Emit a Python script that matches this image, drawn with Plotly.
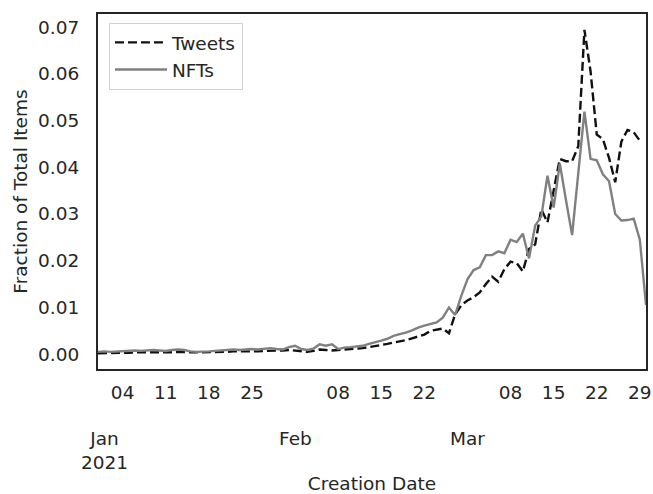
import pandas as pd
import plotly.graph_objects as go

start_date = "2020-12-31"
n_days = 90

tweets = [
    0.0002, 0.0002, 0.0003, 0.0003, 0.0003, 0.0003, 0.0004, 0.0004, 0.0004, 0.0004,
    0.0003, 0.0004, 0.0004, 0.0005, 0.0004, 0.0004, 0.0004, 0.0004, 0.0005, 0.0005,
    0.0005, 0.0005, 0.0006, 0.0006, 0.0005, 0.0006, 0.0006, 0.0007, 0.0007, 0.0007,
    0.0008, 0.0009, 0.0008, 0.0006, 0.0005, 0.0007, 0.0010, 0.0009, 0.0008, 0.0009,
    0.0010, 0.0010, 0.0011, 0.0013, 0.0015, 0.0017, 0.0020, 0.0022, 0.0025, 0.0027,
    0.0030, 0.0034, 0.0038, 0.0042, 0.0050, 0.0053, 0.0055, 0.0045, 0.0085, 0.0105,
    0.0115, 0.0122, 0.0132, 0.0150, 0.0166, 0.0155, 0.0182, 0.0198, 0.0195, 0.0177,
    0.0225, 0.0235, 0.0310, 0.0282, 0.0350, 0.0418, 0.0413, 0.0413, 0.0445, 0.0694,
    0.0605, 0.0470, 0.0460, 0.0420, 0.0368, 0.0455, 0.0480, 0.0475, 0.0457, None,
]

nfts = [
    0.0005, 0.0006, 0.0005, 0.0006, 0.0007, 0.0007, 0.0008, 0.0007, 0.0008, 0.0009,
    0.0008, 0.0007, 0.0009, 0.0010, 0.0009, 0.0006, 0.0005, 0.0005, 0.0006, 0.0007,
    0.0008, 0.0009, 0.0010, 0.0009, 0.0010, 0.0011, 0.0010, 0.0012, 0.0013, 0.0011,
    0.0010, 0.0015, 0.0018, 0.0011, 0.0009, 0.0012, 0.0021, 0.0018, 0.0021, 0.0011,
    0.0014, 0.0015, 0.0016, 0.0018, 0.0022, 0.0025, 0.0029, 0.0033, 0.0039, 0.0043,
    0.0046, 0.0051, 0.0057, 0.0061, 0.0065, 0.0068, 0.0078, 0.0100, 0.0084, 0.0125,
    0.0160, 0.0180, 0.0186, 0.0212, 0.0212, 0.0220, 0.0216, 0.0245, 0.0240, 0.0258,
    0.0205, 0.0275, 0.0295, 0.0382, 0.0314, 0.0408, 0.0330, 0.0255, 0.0387, 0.0519,
    0.0418, 0.0415, 0.0385, 0.0370, 0.0300, 0.0286, 0.0287, 0.0290, 0.0245, 0.0105,
]

week_ticks = ["2021-01-04", "2021-01-11", "2021-01-18", "2021-01-25",
              "2021-02-08", "2021-02-15", "2021-02-22",
              "2021-03-08", "2021-03-15", "2021-03-22", "2021-03-29"]
week_labels = ["04", "11", "18", "25", "08", "15", "22", "08", "15", "22", "29"]
month_ticks = ["2021-01-01", "2021-02-01", "2021-03-01"]
month_labels = ["Jan<br>2021", "Feb", "Mar"]

dates = pd.date_range(start_date, periods=n_days)

FONT = "DejaVu Sans"
TXT = "#262626"
FS = 18.5

fig = go.Figure()
fig.add_trace(go.Scatter(x=dates, y=tweets, mode="lines", name="Tweets",
                         line=dict(color="#111111", width=2.4, dash="9px,4px")))
fig.add_trace(go.Scatter(x=dates, y=nfts, mode="lines", name="NFTs",
                         line=dict(color="#808080", width=2.4)))

fig.update_layout(
    width=653, height=494,
    margin=dict(l=98, r=7, t=14, b=125),
    paper_bgcolor="white", plot_bgcolor="white",
    font=dict(family=FONT, size=FS, color=TXT),
    showlegend=True,
    legend=dict(x=0.02, y=0.975, xanchor="left", yanchor="top",
                bgcolor="white", bordercolor="#d0d0d0", borderwidth=1,
                itemwidth=52,
                font=dict(size=FS, color=TXT), tracegroupgap=4),
)

fig.update_xaxes(
    range=[dates[0], dates[-1]],
    tickvals=week_ticks, ticktext=week_labels,
    ticks="", ticklabelstandoff=6, automargin=False,
    showgrid=False, zeroline=False,
    showline=True, linecolor="#262626", linewidth=2, mirror=True,
    tickfont=dict(size=FS, color=TXT),
    title=dict(text="Creation Date", standoff=78, font=dict(size=FS, color=TXT)),
)
fig.update_yaxes(
    range=[-0.00317, 0.0728],
    tickvals=[0.0, 0.01, 0.02, 0.03, 0.04, 0.05, 0.06, 0.07],
    tickformat=".2f",
    ticks="", ticklabelstandoff=13, automargin=False,
    showgrid=False, zeroline=False,
    showline=True, linecolor="#262626", linewidth=2, mirror=True,
    tickfont=dict(size=FS, color=TXT),
    title=dict(text="Fraction of Total Items", standoff=6, font=dict(size=FS, color=TXT)),
)

for d, lab in zip(month_ticks, month_labels):
    fig.add_annotation(x=d, y=-0.16, xref="x", yref="paper",
                       text=lab, showarrow=False, xanchor="center", yanchor="top",
                       font=dict(size=FS, color=TXT, family=FONT))

fig.write_html("out.html")
